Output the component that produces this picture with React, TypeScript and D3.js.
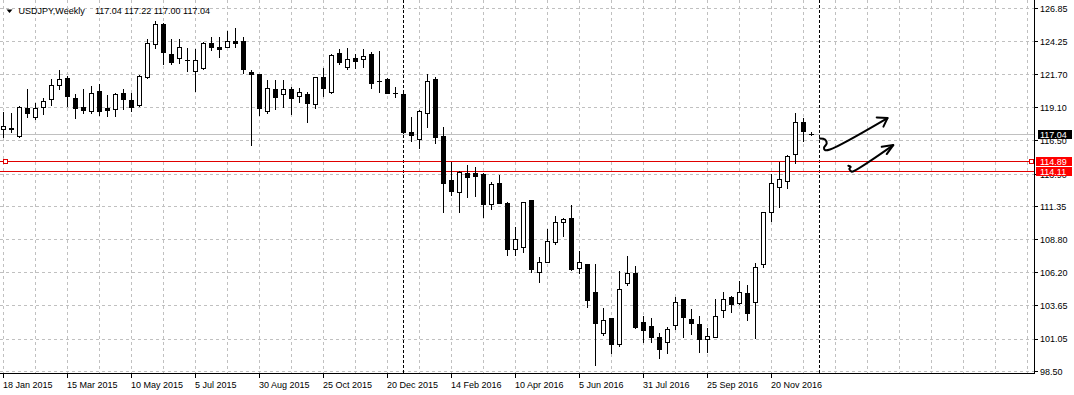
import React from "react";
import * as d3 from "d3";

const W = 1074;
const H = 395;

// Weekly USDJPY candles, bar 0 = week of 18 Jan 2015
const opens = [
  117.40, 117.50, 116.91, 119.04, 118.39, 119.12, 119.74, 120.84, 121.38, 119.82,
  119.18, 118.83, 120.37, 119.04, 118.96, 120.21, 119.67, 119.28, 121.51, 124.03,
  125.62, 123.28, 122.94, 122.83, 121.95, 122.16, 124.11, 123.85, 123.85, 124.29,
  124.29, 121.90, 121.72, 118.86, 120.55, 120.16, 120.55, 120.00, 120.16, 119.35,
  121.46, 120.34, 123.33, 122.24, 122.94, 122.86, 123.28, 121.20, 121.30, 120.25,
  120.16, 117.19, 116.67, 118.65, 121.33, 116.88, 113.45, 112.54, 113.97, 113.97,
  113.89, 111.55, 113.19, 111.63, 108.09, 108.20, 111.89, 106.25, 107.08, 108.64,
  110.15, 110.46, 106.56, 106.87, 104.69, 101.54, 102.66, 100.63, 105.39, 106.17,
  102.35, 102.06, 101.18, 100.79, 102.12, 104.14, 102.58, 102.19, 101.02, 101.23,
  103.29, 104.35, 103.83, 104.61, 103.96, 106.87, 110.93, 112.88, 113.37, 115.45,
  117.95, 117.04,
];
const highs = [
  118.78, 118.65, 119.22, 120.52, 119.46, 119.87, 121.33, 122.03, 121.54, 120.16,
  120.55, 120.78, 120.94, 120.08, 120.28, 120.55, 120.28, 121.66, 124.45, 125.88,
  125.67, 124.42, 124.42, 123.72, 123.67, 124.19, 124.63, 124.63, 125.07, 125.28,
  124.60, 122.03, 121.75, 121.29, 121.25, 121.25, 120.73, 120.60, 120.34, 121.48,
  122.16, 123.28, 123.67, 123.72, 123.28, 123.64, 123.46, 123.54, 121.38, 120.74,
  120.47, 118.34, 118.91, 121.72, 121.51, 117.61, 114.88, 114.18, 114.62, 114.44,
  113.97, 113.32, 113.84, 111.76, 109.76, 111.76, 111.92, 107.47, 109.63, 110.64,
  110.51, 111.50, 107.91, 106.90, 106.87, 103.44, 102.70, 106.35, 107.52, 106.74,
  102.84, 102.66, 101.49, 102.01, 104.35, 104.16, 103.39, 102.84, 101.88, 104.14,
  104.69, 104.38, 105.57, 105.26, 106.95, 110.95, 113.92, 114.88, 115.40, 118.65,
  118.26, 117.22,
];
const lows = [
  116.83, 117.19, 116.83, 118.34, 118.21, 118.64, 119.32, 120.59, 119.25, 118.33,
  118.68, 118.72, 118.56, 118.47, 118.46, 119.03, 118.86, 119.22, 121.43, 123.72,
  122.47, 122.47, 122.55, 121.95, 120.39, 122.11, 123.59, 123.02, 123.80, 123.85,
  121.77, 116.18, 118.52, 118.68, 119.03, 119.17, 118.64, 119.56, 118.00, 119.09,
  120.03, 120.26, 122.47, 122.08, 122.16, 122.29, 120.60, 120.34, 120.21, 119.95,
  117.14, 116.52, 115.97, 117.61, 116.36, 110.98, 112.28, 110.98, 112.15, 112.23,
  110.59, 111.19, 111.63, 107.60, 107.60, 107.86, 106.30, 105.52, 107.05, 108.46,
  109.11, 106.43, 106.22, 103.57, 99.02, 101.36, 99.98, 100.50, 105.26, 101.88,
  100.81, 100.84, 99.54, 99.93, 101.80, 101.23, 101.41, 100.06, 100.06, 101.20,
  102.79, 103.18, 103.78, 102.53, 101.10, 106.69, 110.28, 111.37, 112.85, 114.75,
  116.52, 117.00,
];
const closes = [
  117.69, 117.47, 119.12, 118.70, 119.04, 119.59, 120.84, 121.37, 120.03, 119.09,
  118.93, 120.21, 118.87, 118.91, 120.13, 119.74, 119.17, 121.54, 124.11, 125.62,
  123.41, 122.68, 123.85, 122.80, 122.81, 124.11, 123.80, 123.69, 124.29, 124.16,
  122.08, 121.72, 119.04, 120.60, 119.96, 120.53, 119.89, 120.29, 119.43, 121.46,
  120.60, 123.20, 122.63, 122.86, 122.76, 123.12, 120.99, 121.15, 120.26, 120.24,
  117.22, 116.98, 118.83, 121.17, 116.83, 113.19, 112.62, 114.05, 113.71, 113.79,
  111.55, 113.11, 111.68, 108.11, 108.82, 111.71, 106.48, 107.08, 108.67, 110.15,
  110.38, 106.51, 107.03, 104.09, 102.27, 102.51, 100.63, 104.92, 106.17, 102.01,
  101.75, 101.23, 100.24, 101.80, 103.91, 102.74, 102.27, 101.02, 101.31, 102.87,
  104.14, 103.76, 104.74, 103.10, 106.69, 110.93, 113.19, 113.51, 115.35, 117.95,
  117.30, 117.04,
];

const priceTicks = [126.85, 124.25, 121.70, 119.10, 116.50, 113.90, 111.35, 108.80, 106.20, 103.65, 101.05, 98.50];
const dateLabels = [
  "18 Jan 2015", "15 Mar 2015", "10 May 2015", "5 Jul 2015", "30 Aug 2015", "25 Oct 2015",
  "20 Dec 2015", "14 Feb 2016", "10 Apr 2016", "5 Jun 2016", "31 Jul 2016", "25 Sep 2016", "20 Nov 2016",
];
const dateLabelBars = [0, 8, 16, 24, 32, 40, 48, 56, 64, 72, 80, 88, 96];
const separatorBars = [50, 102];
const currentPrice = 117.04;
const levelLines = [114.89, 114.11];
const titleSymbol = "USDJPY,Weekly";
const titleQuote = "117.04 117.22 117.00 117.04";

// hand-drawn arrows: [bar, price]
const arrow1Body: [number, number][] = [
  [102.06, 116.70], [102.69, 116.62], [102.9, 116.31], [102.56, 115.97], [102.69, 115.79], [103.31, 115.84], [110.5, 118.29],
];
const arrow1Head: [number, number][] = [[109.15, 118.34], [110.5, 118.29], [109.99, 117.62]];
const arrow2Body: [number, number][] = [
  [105.6, 114.57], [105.9, 114.49], [105.72, 114.31], [105.94, 114.15], [106.03, 114.10], [111.22, 116.18],
];
const arrow2Head: [number, number][] = [[109.78, 116.05], [111.22, 116.18], [110.4, 115.48]];

const FONT = "'Liberation Sans', Arial, sans-serif";

export default function App() {
  const plotRight = 1034.5;
  const plotBottom = 373.5;
  const x = d3.scaleLinear().domain([0, 128]).range([3.5, 1027.5]);
  const y = d3.scaleLinear().domain([98.5, 126.85]).range([371.7, 8.3]);
  const crisp = (v: number) => Math.floor(v) + 0.5;
  const gridBars = d3.range(0, 129, 4);

  const line = d3
    .line<[number, number]>()
    .x((d) => x(d[0]))
    .y((d) => y(d[1]))
    .curve(d3.curveCatmullRom.alpha(0.5));
  const straight = d3
    .line<[number, number]>()
    .x((d) => x(d[0]))
    .y((d) => y(d[1]));

  return (
    <svg
      width={W}
      height={H}
      style={{ position: "fixed", left: 0, top: 0, background: "#fff" }}
      fontFamily={FONT}
    >
      <rect x={0} y={0} width={W} height={H} fill="#fff" />
      {/* grid */}
      <g stroke="#c0c0c0" strokeDasharray="3,3" shapeRendering="crispEdges">
        {priceTicks.map((v) => (
          <line key={"h" + v} x1={0} x2={plotRight} y1={crisp(y(v))} y2={crisp(y(v))} />
        ))}
        {gridBars.map((b) => (
          <line key={"v" + b} x1={crisp(x(b))} x2={crisp(x(b))} y1={0} y2={plotBottom} />
        ))}
      </g>
      {/* period separators */}
      <g stroke="#000" strokeDasharray="3,2" shapeRendering="crispEdges">
        {separatorBars.map((b) => (
          <line key={"s" + b} x1={crisp(x(b))} x2={crisp(x(b))} y1={0} y2={plotBottom} />
        ))}
      </g>
      {/* horizontal lines */}
      <g shapeRendering="crispEdges">
        <line x1={0} x2={plotRight} y1={crisp(y(currentPrice))} y2={crisp(y(currentPrice))} stroke="#c0c0c0" />
        {levelLines.map((v) => (
          <line key={"l" + v} x1={0} x2={plotRight} y1={crisp(y(v))} y2={crisp(y(v))} stroke="#e00000" />
        ))}
      </g>
      {/* candles */}
      <g shapeRendering="crispEdges">
        {opens.map((o, i) => {
          const c = closes[i];
          const cx = Math.floor(x(i));
          const yh = Math.round(y(highs[i]));
          const yl = Math.round(y(lows[i]));
          const yt = Math.round(y(Math.max(o, c)));
          const yb = Math.round(y(Math.min(o, c)));
          const bull = c > o;
          return (
            <g key={i}>
              <line x1={cx + 0.5} x2={cx + 0.5} y1={yh} y2={yl + 1} stroke="#000" />
              {yt === yb ? (
                <line x1={cx - 2} x2={cx + 3} y1={yt + 0.5} y2={yt + 0.5} stroke="#000" />
              ) : bull ? (
                <rect x={cx - 1.5} y={yt + 0.5} width={4} height={yb - yt} fill="#fff" stroke="#000" />
              ) : (
                <rect x={cx - 2} y={yt} width={5} height={yb - yt + 1} fill="#000" />
              )}
            </g>
          );
        })}
      </g>
      {/* selection squares on 114.89 line */}
      <g fill="#fff" stroke="#e00000" shapeRendering="crispEdges">
        <rect x={3.5} y={crisp(y(levelLines[0])) - 2} width={4} height={4} />
        <rect x={plotRight - 5} y={crisp(y(levelLines[0])) - 2} width={4} height={4} />
      </g>
      {/* arrows */}
      <g fill="none" stroke="#000" strokeWidth={2} strokeLinecap="round" strokeLinejoin="round">
        <path d={line(arrow1Body) || ""} />
        <path d={straight(arrow1Head) || ""} />
        <path d={line(arrow2Body) || ""} />
        <path d={straight(arrow2Head) || ""} />
      </g>
      {/* frame */}
      <g stroke="#000" shapeRendering="crispEdges">
        <line x1={plotRight} x2={plotRight} y1={0} y2={plotBottom + 0.5} />
        <line x1={0} x2={plotRight} y1={plotBottom} y2={plotBottom} />
        {priceTicks.map((v) => (
          <line key={"t" + v} x1={plotRight} x2={1038} y1={crisp(y(v))} y2={crisp(y(v))} />
        ))}
        {dateLabelBars.map((b) => (
          <line key={"bt" + b} x1={crisp(x(b))} x2={crisp(x(b))} y1={plotBottom} y2={377.5} />
        ))}
      </g>
      {/* price labels */}
      <g fontSize={9} fill="#000">
        {priceTicks.map((v) => (
          <text key={"pl" + v} x={1040} y={y(v) + 3.3}>
            {v.toFixed(2)}
          </text>
        ))}
      </g>
      {/* date labels */}
      <g fontSize={9} fill="#000">
        {dateLabels.map((t, k) => (
          <text key={t} x={Math.floor(x(dateLabelBars[k]))} y={387.5}>
            {t}
          </text>
        ))}
      </g>
      {/* current price & level labels */}
      <g shapeRendering="crispEdges">
        <rect x={1038} y={Math.round(y(currentPrice)) - 4} width={34} height={9} fill="#000" />
        {levelLines.map((v) => (
          <rect key={"lb" + v} x={1036} y={Math.round(y(v)) - 5} width={36} height={9} fill="#ff0000" />
        ))}
      </g>
      <g fontSize={9} fill="#fff">
        <text x={1040} y={y(currentPrice) + 3.6}>{currentPrice.toFixed(2)}</text>
        {levelLines.map((v) => (
          <text key={"lt" + v} x={1040} y={Math.round(y(v)) + 3}>
            {v.toFixed(2)}
          </text>
        ))}
      </g>
      {/* title */}
      <path d="M6.5,9.5 L12.5,9.5 L9.5,13 Z" fill="#000" />
      <text x={18.5} y={14} fontSize={9} fill="#000">{titleSymbol}</text>
      <text x={95} y={14} fontSize={9} fill="#000">{titleQuote}</text>
    </svg>
  );
}
